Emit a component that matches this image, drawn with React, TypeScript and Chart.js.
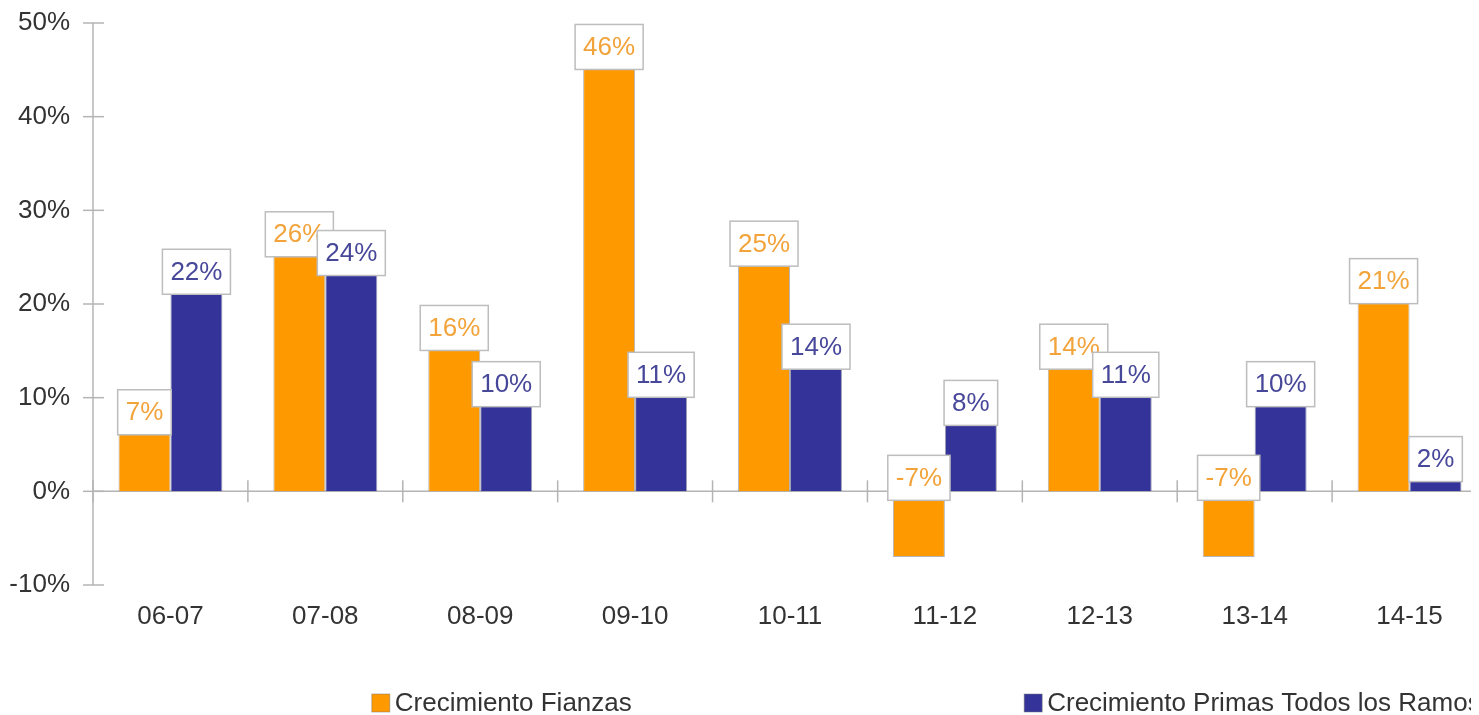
import React, { useEffect, useRef } from "react";
import { Chart, registerables } from "chart.js";

Chart.register(...registerables);

const categories = ["06-07", "07-08", "08-09", "09-10", "10-11", "11-12", "12-13", "13-14", "14-15"];
const fianzas = [7, 26, 16, 46, 25, -7, 14, -7, 21];
const primas = [22, 24, 10, 11, 14, 8, 11, 10, 2];
const seriesNames = ["Crecimiento Fianzas", "Crecimiento Primas Todos los Ramos"];
const yTicks = [-10, 0, 10, 20, 30, 40, 50];

const ORANGE = "#FF9900";
const BLUE = "#333399";
const ORANGE_TEXT = "#F2A33A";
const BLUE_TEXT = "#48489A";
const FONT_FAMILY = '"Liberation Sans", Arial, Helvetica, sans-serif';
const FONT_SIZE = 26;
const AXIS_COLOR = "#b4b4b4";

const CANVAS_W = 1500;
const CANVAS_H = 740;

const customPlugin = {
  id: "customDecor",
  beforeDatasetsDraw(chart: any) {
    const { ctx, chartArea, scales } = chart;
    const x = scales.x;
    const y = scales.y;
    ctx.save();
    ctx.strokeStyle = AXIS_COLOR;
    ctx.lineWidth = 1.5;
    ctx.beginPath();
    ctx.moveTo(chartArea.left, chartArea.top);
    ctx.lineTo(chartArea.left, chartArea.bottom);
    ctx.stroke();
    yTicks.forEach((v) => {
      const py = y.getPixelForValue(v);
      ctx.beginPath();
      ctx.moveTo(chartArea.left - 10, py);
      ctx.lineTo(chartArea.left + 11, py);
      ctx.stroke();
    });
    const zy = y.getPixelForValue(0);
    ctx.beginPath();
    ctx.moveTo(chartArea.left, zy);
    ctx.lineTo(chartArea.right, zy);
    ctx.stroke();
    const cw = x.getPixelForValue(1) - x.getPixelForValue(0);
    for (let i = 0; i <= categories.length; i++) {
      const px = x.getPixelForValue(0) - cw / 2 + i * cw;
      ctx.beginPath();
      ctx.moveTo(px, zy - 11);
      ctx.lineTo(px, zy + 11);
      ctx.stroke();
    }
    ctx.restore();
  },
  afterDatasetsDraw(chart: any) {
    const { ctx } = chart;
    ctx.save();
    ctx.font = `${FONT_SIZE}px ${FONT_FAMILY}`;
    ctx.textAlign = "center";
    ctx.textBaseline = "middle";
    chart.data.datasets.forEach((ds: any, di: number) => {
      const meta = chart.getDatasetMeta(di);
      meta.data.forEach((el: any, i: number) => {
        const v = ds.data[i];
        const txt = `${v}%`;
        const tw = ctx.measureText(txt).width;
        const w = tw + 16;
        const h = 45;
        const bottom = Math.min(el.y, el.base) + 9;
        const top = bottom - h;
        const left = el.x - w / 2;
        ctx.fillStyle = "#ffffff";
        ctx.fillRect(left, top, w, h);
        ctx.strokeStyle = "#bdbdbd";
        ctx.lineWidth = 1.5;
        ctx.strokeRect(left, top, w, h);
        ctx.fillStyle = di === 0 ? ORANGE_TEXT : BLUE_TEXT;
        ctx.fillText(txt, el.x, top + h / 2 + 1);
      });
    });
    ctx.restore();
  },
  afterDraw(chart: any) {
    const { ctx, chartArea } = chart;
    const width = chartArea.right - chartArea.left;
    const positions = [0.2, 0.668];
    const colors = [ORANGE, BLUE];
    const cy = chartArea.bottom + 118;
    ctx.save();
    ctx.font = `${FONT_SIZE}px ${FONT_FAMILY}`;
    ctx.textAlign = "left";
    ctx.textBaseline = "middle";
    seriesNames.forEach((name, i) => {
      const lx = chartArea.left + positions[i] * width;
      ctx.fillStyle = colors[i];
      ctx.fillRect(lx, cy - 9, 18, 18);
      ctx.strokeStyle = "rgba(120,120,120,0.5)";
      ctx.lineWidth = 1;
      ctx.strokeRect(lx, cy - 9, 18, 18);
      ctx.fillStyle = "#333333";
      ctx.fillText(name, lx + 23, cy + 1);
    });
    ctx.restore();
  },
};

export default function App() {
  const canvasRef = useRef<HTMLCanvasElement | null>(null);

  useEffect(() => {
    if (!canvasRef.current) return;
    const chart = new Chart(canvasRef.current, {
      type: "bar",
      data: {
        labels: categories,
        datasets: [
          {
            label: seriesNames[0],
            data: fianzas,
            backgroundColor: ORANGE,
            borderColor: "rgba(120,120,120,0.55)",
            borderWidth: 1,
            barPercentage: 1,
            categoryPercentage: 0.671,
          },
          {
            label: seriesNames[1],
            data: primas,
            backgroundColor: BLUE,
            borderColor: "rgba(80,80,120,0.55)",
            borderWidth: 1,
            barPercentage: 1,
            categoryPercentage: 0.671,
          },
        ],
      },
      options: {
        responsive: false,
        animation: false,
        devicePixelRatio: 1,
        layout: { padding: { top: 15, right: 21, bottom: CANVAS_H - 577 - 60, left: 0 } },
        plugins: {
          legend: { display: false },
          tooltip: { enabled: false },
          title: { display: false },
        },
        scales: {
          x: {
            grid: { display: false, drawTicks: false },
            border: { display: false },
            ticks: {
              color: "#333333",
              padding: 16,
              font: { family: FONT_FAMILY, size: FONT_SIZE },
              maxRotation: 0,
              autoSkip: false,
            },
            afterFit: (scale: any) => {
              scale.height = 60;
              scale.paddingLeft = 0;
              scale.paddingRight = 0;
            },
          },
          y: {
            min: -10,
            max: 50,
            grid: { display: false, drawTicks: false },
            border: { display: false },
            ticks: {
              stepSize: 10,
              color: "#333333",
              padding: 23,
              font: { family: FONT_FAMILY, size: FONT_SIZE },
              callback: (v: any) => `${v}%`,
            },
            afterFit: (scale: any) => {
              scale.width = 85;
              scale.paddingTop = 0;
              scale.paddingBottom = 0;
            },
          },
        },
      },
      plugins: [customPlugin],
    });
    return () => chart.destroy();
  }, []);

  return (
    <div style={{ width: 1463, height: 707, overflow: "hidden" }}>
      <canvas
        ref={canvasRef}
        width={CANVAS_W}
        height={CANVAS_H}
        style={{ display: "block", width: CANVAS_W, height: CANVAS_H }}
      />
    </div>
  );
}
